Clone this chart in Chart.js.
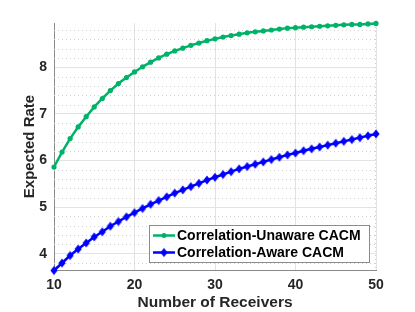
<!DOCTYPE html>
<html>
<head>
<meta charset="utf-8">
<script src="https://cdn.jsdelivr.net/npm/chart.js@4/dist/chart.umd.min.js"></script>
<style>
html,body{margin:0;padding:0;background:#fff;}
#wrap{width:415px;height:312px;}
</style>
</head>
<body>
<div id="wrap"><canvas id="c" width="415" height="312"></canvas></div>
<script>
const receivers = [10,11,12,13,14,15,16,17,18,19,20,21,22,23,24,25,26,27,28,29,30,31,32,33,34,35,36,37,38,39,40,41,42,43,44,45,46,47,48,49,50];
const unawareRate = [5.86,6.18,6.47,6.72,6.94,7.15,7.33,7.50,7.65,7.78,7.90,8.01,8.11,8.20,8.28,8.35,8.41,8.47,8.52,8.57,8.61,8.65,8.68,8.71,8.74,8.76,8.78,8.80,8.82,8.84,8.85,8.86,8.87,8.88,8.89,8.90,8.91,8.92,8.92,8.93,8.94];
const awareRate = [3.64,3.80,3.96,4.10,4.23,4.36,4.47,4.59,4.69,4.79,4.88,4.97,5.06,5.14,5.22,5.30,5.37,5.44,5.51,5.58,5.64,5.70,5.76,5.82,5.87,5.92,5.97,6.02,6.07,6.12,6.16,6.21,6.25,6.29,6.33,6.37,6.41,6.45,6.49,6.53,6.57];
const xTicks = [10,20,30,40,50];
const yTicks = [4,5,6,7,8];
const yMinorTicks = [3.8,4.2,4.4,4.6,4.8,5.2,5.4,5.6,5.8,6.2,6.4,6.6,6.8,7.2,7.4,7.6,7.8,8.2,8.4,8.6,8.8];
const seriesNames = ['Correlation-Unaware CACM','Correlation-Aware CACM'];

const FONT = '"Liberation Sans", Arial, Helvetica, sans-serif';
const GREEN = 'rgb(0,178,105)';
const BLUE = 'rgb(0,0,255)';

// tall diamond marker like MATLAB's 'd'
function makeDiamond(color, hw, hh) {
  const c = document.createElement('canvas');
  c.width = Math.ceil(hw * 2) + 2; c.height = Math.ceil(hh * 2) + 2;
  const g = c.getContext('2d');
  const cx = c.width / 2, cy = c.height / 2;
  g.fillStyle = color;
  g.beginPath();
  g.moveTo(cx, cy - hh); g.lineTo(cx + hw, cy); g.lineTo(cx, cy + hh); g.lineTo(cx - hw, cy); g.closePath();
  g.fill();
  return c;
}
const diamondMarker = makeDiamond(BLUE, 3.6, 4.6);

const minorGrid = {
  id: 'minorGrid',
  beforeDatasetsDraw(chart) {
    const {ctx, chartArea, scales} = chart;
    ctx.save();
    ctx.strokeStyle = '#d0d0d0';
    ctx.lineWidth = 1;
    ctx.setLineDash([1,3]);
    yMinorTicks.forEach(v => {
      const y = Math.round(scales.y.getPixelForValue(v)) + 0.5;
      ctx.beginPath();
      ctx.moveTo(chartArea.left, y);
      ctx.lineTo(chartArea.right, y);
      ctx.stroke();
    });
    const xr = Math.round(scales.x.getPixelForValue(50)) - 0.5;
    ctx.beginPath();
    ctx.moveTo(xr, chartArea.top);
    ctx.lineTo(xr, chartArea.bottom);
    ctx.stroke();
    ctx.restore();
  }
};

const boxLegend = {
  id: 'boxLegend',
  afterDraw(chart) {
    const {ctx} = chart;
    const x0 = 149.5, y0 = 225.5, w = 220, h = 37;
    ctx.save();
    ctx.setLineDash([]);
    ctx.fillStyle = '#ffffff';
    ctx.fillRect(x0, y0, w, h);
    ctx.strokeStyle = '#8c8c8c';
    ctx.lineWidth = 1;
    ctx.strokeRect(x0, y0, w, h);
    ctx.font = 'bold 14px ' + FONT;
    ctx.textBaseline = 'middle';
    ctx.textAlign = 'left';
    chart.data.datasets.forEach((ds, i) => {
      const cy = 235.5 + i * 17;
      ctx.strokeStyle = ds.borderColor;
      ctx.lineWidth = 2.5;
      ctx.beginPath();
      ctx.moveTo(153, cy);
      ctx.lineTo(175, cy);
      ctx.stroke();
      ctx.fillStyle = ds.borderColor;
      if (i === 1) {
        ctx.drawImage(diamondMarker, 164 - diamondMarker.width / 2, cy - diamondMarker.height / 2);
      } else {
        ctx.beginPath();
        ctx.arc(164, cy, 2.5, 0, Math.PI * 2);
        ctx.fill();
      }
      ctx.fillStyle = '#000000';
      ctx.fillText(ds.label, 177, cy + 0.5);
    });
    ctx.restore();
  }
};

new Chart(document.getElementById('c'), {
  type: 'line',
  data: {
    datasets: [
      {
        label: seriesNames[0],
        data: receivers.map((x, i) => ({x: x, y: unawareRate[i]})),
        borderColor: GREEN, backgroundColor: GREEN,
        borderWidth: 2.5, pointStyle: 'circle', pointRadius: 2.6,
        pointBorderWidth: 0, pointBackgroundColor: GREEN, tension: 0, clip: false
      },
      {
        label: seriesNames[1],
        data: receivers.map((x, i) => ({x: x, y: awareRate[i]})),
        borderColor: BLUE, backgroundColor: BLUE,
        borderWidth: 2.5, pointStyle: diamondMarker, pointRadius: 4,
        pointBorderWidth: 0, pointBackgroundColor: BLUE, tension: 0, clip: false
      }
    ]
  },
  options: {
    responsive: false,
    animation: false,
    devicePixelRatio: 1,
    layout: {padding: {left: 0, top: 23, right: 39, bottom: 0}},
    plugins: {legend: {display: false}, tooltip: {enabled: false}},
    scales: {
      x: {
        type: 'linear', min: 10, max: 50,
        afterBuildTicks: s => { s.ticks = xTicks.map(v => ({value: v})); },
        afterFit: s => { s.height = 42; },
        ticks: {font: {family: FONT, size: 14, weight: 'bold'}, color: '#262626', padding: 7, maxRotation: 0},
        grid: {color: '#e3e3e3', lineWidth: 1, drawTicks: false},
        border: {display: true, color: '#8a8a8a', width: 1},
        title: {display: true, text: 'Number of Receivers', font: {family: FONT, size: 15.5, weight: 'bold'}, color: '#262626', padding: {top: 0, bottom: 0}}
      },
      y: {
        type: 'linear', min: 3.65, max: 8.95,
        afterBuildTicks: s => { s.ticks = yTicks.map(v => ({value: v})); },
        afterFit: s => { s.width = 54; },
        ticks: {font: {family: FONT, size: 14, weight: 'bold'}, color: '#262626', padding: 7},
        grid: {color: '#e3e3e3', lineWidth: 1, drawTicks: false},
        border: {display: true, color: '#8a8a8a', width: 1},
        title: {display: true, text: 'Expected Rate', font: {family: FONT, size: 15, weight: 'bold'}, color: '#262626', padding: {top: 21, bottom: 0}}
      }
    }
  },
  plugins: [minorGrid, boxLegend]
});
</script>
</body>
</html>
